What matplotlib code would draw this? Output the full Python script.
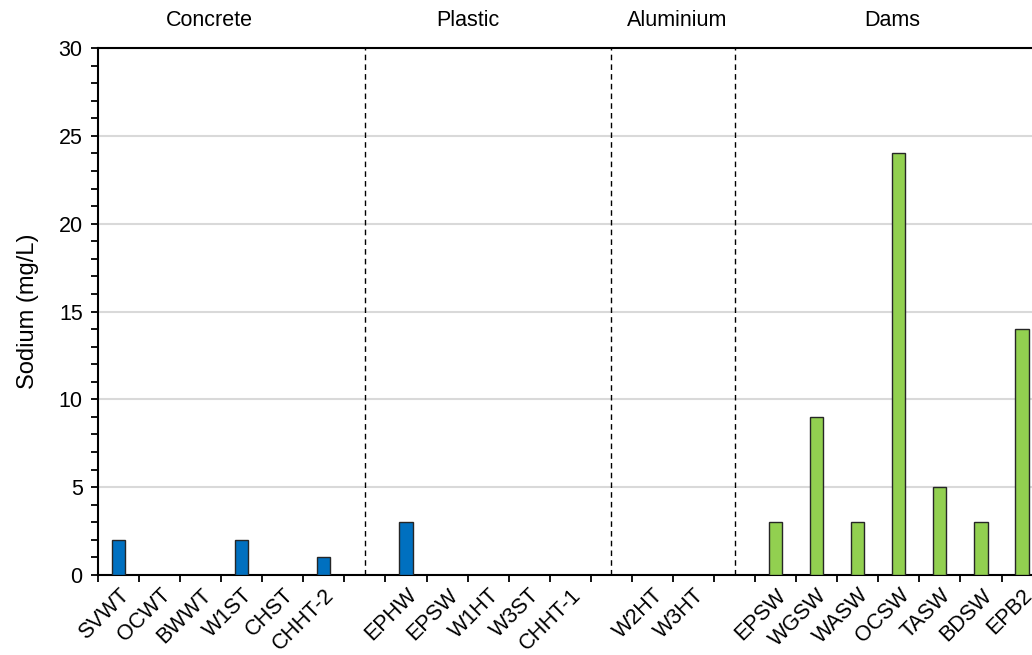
import matplotlib
matplotlib.use("Agg")
import matplotlib.pyplot as plt
import matplotlib.transforms as mtransforms
from matplotlib.ticker import MultipleLocator, FixedLocator, NullFormatter

plt.rcParams['font.family'] = ['Liberation Sans', 'DejaVu Sans']

# sample sites and sodium values per storage type
groups = ['Concrete', 'Plastic', 'Aluminium', 'Dams']
concrete_sites = ['SVWT', 'OCWT', 'BWWT', 'W1ST', 'CHST', 'CHHT-2']
concrete_na = [2, 0, 0, 2, 0, 1]
plastic_sites = ['EPHW', 'EPSW', 'W1HT', 'W3ST', 'CHHT-1']
plastic_na = [3, 0, 0, 0, 0]
aluminium_sites = ['W2HT', 'W3HT']
aluminium_na = [0, 0]
dams_sites = ['EPSW', 'WGSW', 'WASW', 'OCSW', 'TASW', 'BDSW', 'EPB2']
dams_na = [3, 9, 3, 24, 5, 3, 14]

blue = '#0070C0'
green = '#92D050'

fig = plt.figure(figsize=(10.32, 6.55), dpi=100)
ax = fig.add_axes([98 / 1032, 1 - 575 / 655, 944.6 / 1032, 527 / 655])

site_lists = [concrete_sites, plastic_sites, aluminium_sites, dams_sites]
value_lists = [concrete_na, plastic_na, aluminium_na, dams_na]
colors = [blue, blue, blue, green]

labels = []
centers = []
seps = []
slot = 0
for sites, vals, col in zip(site_lists, value_lists, colors):
    for s, v in zip(sites, vals):
        x = slot + 0.5
        if v > 0:
            ax.bar(x, v, width=0.32, color=col, edgecolor='#262626', linewidth=1.0, zorder=3)
        labels.append(s)
        centers.append(x)
        slot += 1
    seps.append(slot + 0.5)
    slot += 1
seps = seps[:-1]
nslots = slot - 1

# dashed lines between the storage types
for s in seps:
    ax.plot([s, s], [0, 30], color='black', linestyle=(0, (4, 3)), linewidth=1.0, zorder=2)

ax.set_xlim(0, nslots)
ax.set_ylim(0, 30)

ax.yaxis.set_major_locator(MultipleLocator(5))
ax.yaxis.set_minor_locator(MultipleLocator(1))
ax.grid(axis='y', which='major', color='#d9d9d9', linewidth=1.5, zorder=0)
ax.set_axisbelow(True)

ax.xaxis.set_major_locator(FixedLocator(range(0, nslots + 1)))
ax.xaxis.set_major_formatter(NullFormatter())
ax.xaxis.set_minor_locator(FixedLocator(centers))
ax.set_xticklabels(labels, minor=True, rotation=45, ha='right',
                   rotation_mode='anchor', fontsize=15.5)
ax.tick_params(axis='x', which='minor', length=0, pad=7)
ax.tick_params(axis='x', which='major', direction='out', length=5, width=1.3)
ax.tick_params(axis='y', which='both', direction='out', length=5, width=1.3,
               labelsize=15.5, pad=6)

for side in ['left', 'bottom', 'top']:
    ax.spines[side].set_linewidth(1.5)
ax.spines['right'].set_visible(False)

ax.set_ylabel('Sodium (mg/L)', fontsize=17, labelpad=14)

# group titles above the plot
trans = mtransforms.blended_transform_factory(ax.transData, ax.transAxes)
title_x = [2.7, 9.0, 14.1, 19.35]
for g, tx in zip(groups, title_x):
    ax.text(tx, 1.053, g, transform=trans, ha='center', va='center', fontsize=15.5)

fig.savefig('out.png', dpi=100)
